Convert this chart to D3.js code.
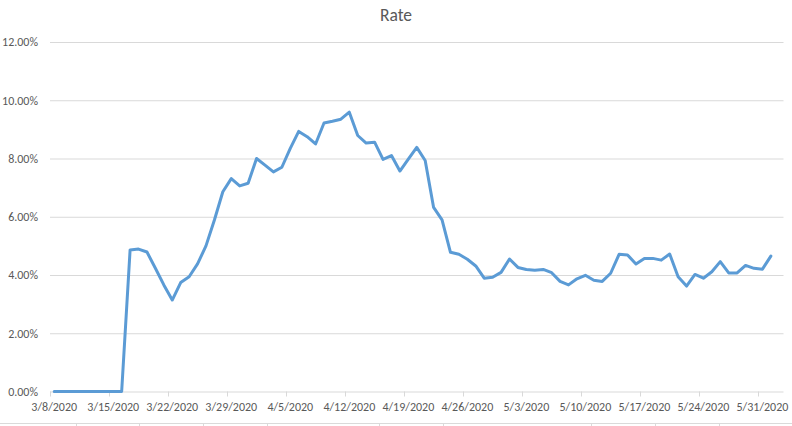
<!DOCTYPE html>
<html>
<head>
<meta charset="utf-8">
<script src="https://cdn.jsdelivr.net/npm/d3@7"></script>
<style>
  html, body { margin: 0; padding: 0; background: #fff; }
  svg { display: block; }
  text { font-family: Carlito, "Liberation Sans", Arial, sans-serif; fill: #595959; }
</style>
</head>
<body>
<svg width="792" height="426"></svg>
<script>
// daily rate (percent), one value per day starting 3/8/2020
const startDate = '2020-03-08';
const rates = [
    0, 0, 0, 0, 0, 0, 0, 0, 0,
    4.86, 4.89, 4.79, 4.23, 3.66, 3.14, 3.74, 3.94, 4.38, 5.00, 5.89, 6.86, 7.31, 7.06,
    7.15, 8.00, 7.77, 7.54, 7.70, 8.35, 8.93, 8.75, 8.50, 9.22, 9.28, 9.35, 9.59,
    8.79, 8.53, 8.56, 7.97, 8.10, 7.57, 7.98, 8.38, 7.93,
    6.32, 5.89, 4.78, 4.71, 4.54, 4.31, 3.89,
    3.92, 4.09, 4.55, 4.26, 4.19, 4.16, 4.19, 4.08, 3.78, 3.66,
    3.87, 3.99, 3.82, 3.78, 4.06, 4.71, 4.69,
    4.38, 4.57, 4.57, 4.51, 4.72, 3.94, 3.62, 4.02, 3.89, 4.11, 4.46,
    4.07, 4.07, 4.33, 4.23, 4.20, 4.65
];
const xTickDates = ['2020-03-08', '2020-03-15', '2020-03-22', '2020-03-29', '2020-04-05', '2020-04-12',
    '2020-04-19', '2020-04-26', '2020-05-03', '2020-05-10', '2020-05-17', '2020-05-24', '2020-05-31'];
const yTicks = [0, 0.02, 0.04, 0.06, 0.08, 0.10, 0.12];

const svg = d3.select('svg');
const parse = d3.timeParse('%Y-%m-%d');
const fmtDate = d => `${d.getMonth() + 1}/${d.getDate()}/${d.getFullYear()}`;
const fmtPct = d3.format('.2%');

const first = parse(startDate);
const data = rates.map((r, i) => ({ date: d3.timeDay.offset(first, i), value: r / 100 }));
const endDate = d3.timeDay.offset(first, rates.length + 1);

// middle of a day slot, like excel's date axis
const mid = d => d3.timeHour.offset(d, 12);

const x = d3.scaleTime()
    .domain([first, endDate])
    .range([50, 783.5]);

const y = d3.scaleLinear()
    .domain([0, 0.12])
    .range([391.5, 42]);

// spreadsheet cells peeking below the chart
const sheetColumnEdges = [76, 139, 203, 267, 379, 443, 591, 655, 719];
const sheet = svg.append('g').attr('stroke', '#dadada').attr('stroke-width', 1);
sheet.append('line').attr('x1', 0).attr('x2', 792).attr('y1', 423.5).attr('y2', 423.5);
sheet.selectAll('line.col')
    .data(sheetColumnEdges)
    .enter()
    .append('line')
        .attr('class', 'col')
        .attr('x1', d => d + 0.5).attr('x2', d => d + 0.5)
        .attr('y1', 423.5).attr('y2', 426);

// title
svg.append('text')
    .attr('x', 396)
    .attr('y', 21)
    .attr('text-anchor', 'middle')
    .attr('font-size', '17.5px')
    .text('Rate');

// gridlines + y labels
const yAxis = d3.axisLeft(y)
    .tickValues(yTicks)
    .tickFormat(fmtPct)
    .tickSize(-(783.5 - 50))
    .tickPadding(12);

const yg = svg.append('g')
    .attr('transform', 'translate(50,0)')
    .call(yAxis);
yg.select('.domain').remove();
yg.selectAll('.tick line').attr('stroke', '#d9d9d9').attr('stroke-width', 1);
yg.selectAll('.tick text')
    .attr('font-size', '12px')
    .attr('fill', '#595959')
    .attr('font-family', 'Carlito, "Liberation Sans", Arial, sans-serif');

// x axis: ticks at week boundaries, labels centred on the day
const tickDates = xTickDates.map(parse);
const xg = svg.append('g').attr('transform', `translate(0,${y(0)})`);
xg.selectAll('line.tick')
    .data(tickDates)
    .enter()
    .append('line')
        .attr('class', 'tick')
        .attr('x1', d => Math.round(x(d)) + 0.5)
        .attr('x2', d => Math.round(x(d)) + 0.5)
        .attr('y1', 0)
        .attr('y2', 5)
        .attr('stroke', '#d9d9d9');

xg.selectAll('text')
    .data(tickDates)
    .enter()
    .append('text')
        .attr('x', d => x(mid(d)))
        .attr('y', 19.5)
        .attr('text-anchor', 'middle')
        .attr('font-size', '12px')
        .text(fmtDate);

// the line
const line = d3.line()
    .x(d => x(mid(d.date)))
    .y(d => y(d.value));

svg.append('path')
    .datum(data)
    .attr('d', line)
    .attr('fill', 'none')
    .attr('stroke', '#5b9bd5')
    .attr('stroke-width', 3)
    .attr('stroke-linejoin', 'round')
    .attr('stroke-linecap', 'round');
</script>
</body>
</html>
